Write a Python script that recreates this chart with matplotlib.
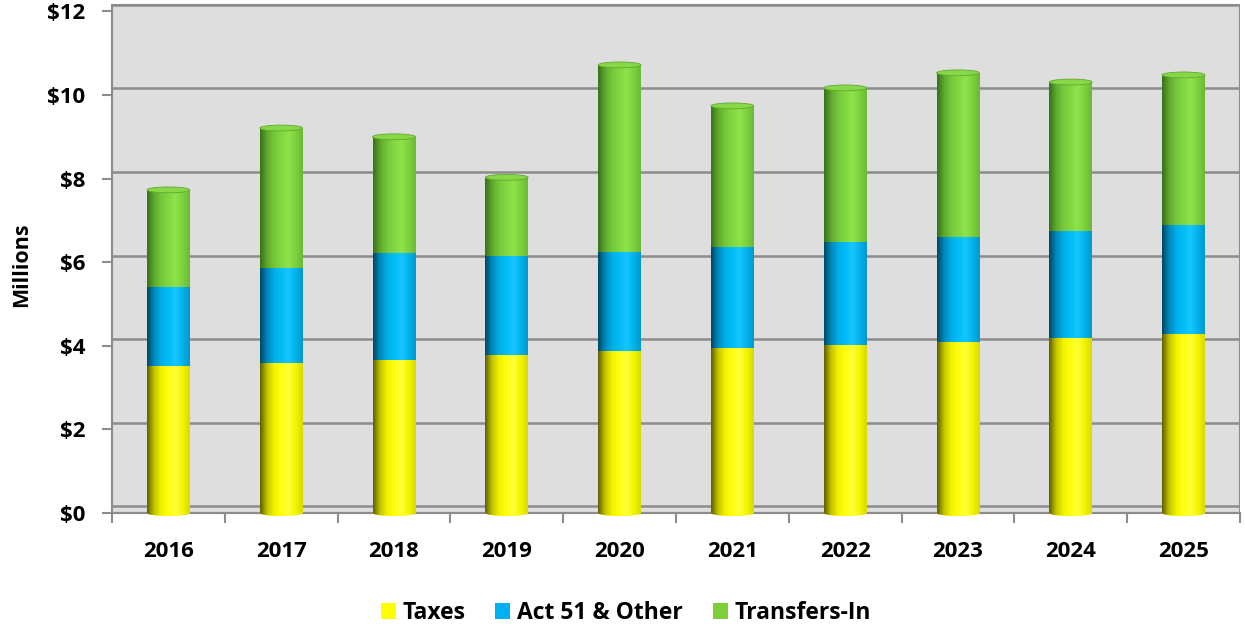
import numpy as np
import matplotlib
matplotlib.use('Agg')
import matplotlib.pyplot as plt
from matplotlib.colors import LinearSegmentedColormap
from matplotlib.patches import Rectangle, Ellipse, Patch

plt.rcParams['font.family'] = ['Open Sans', 'DejaVu Sans']
plt.rcParams['font.weight'] = 'bold'

years = ['2016', '2017', '2018', '2019', '2020', '2021', '2022', '2023', '2024', '2025']
taxes = [3.51, 3.59, 3.67, 3.78, 3.87, 3.95, 4.03, 4.09, 4.18, 4.28]
act51 = [1.89, 2.26, 2.56, 2.38, 2.38, 2.41, 2.46, 2.52, 2.57, 2.62]
transfers = [2.33, 3.36, 2.77, 1.87, 4.47, 3.38, 3.68, 3.92, 3.56, 3.58]
series_names = ['Taxes', 'Act 51 & Other', 'Transfers-In']
y_ticks = [0, 2, 4, 6, 8, 10, 12]
y_ticklabels = ['$0', '$2', '$4', '$6', '$8', '$10', '$12']

# flat colour for legend, plus the shading ramp across a cylinder
flat = ['#FFFF00', '#00B0F0', '#7DCF3A']
ramps = [
    ['#5e5e00', '#c4c400', '#f2f200', '#ffff10', '#ffff3a', '#f4f400', '#d8d800'],
    ['#004862', '#0088bb', '#00aee8', '#00bcf6', '#18c6ff', '#00b2ec', '#0098cc'],
    ['#37701a', '#5fa82e', '#76c83a', '#82d841', '#8fe24c', '#7cd23d', '#6bb834'],
]
cap_color = '#86d846'

BAR_W = 0.38
WALL_DY = 0.16    # back-wall offset of the 3-D floor, in data units
PX = 41.8         # pixels per $1M
Y0 = 513          # pixel row of value 0

fig = plt.figure(figsize=(12.45, 6.26), dpi=100)
ax = fig.add_axes([112 / 1245, 1 - 530 / 626, 1128 / 1245, 530 / 626])
ax.set_xlim(-0.5, 9.5)
ax.set_ylim((Y0 - 530) / PX, Y0 / PX)
ax.patch.set_alpha(0)

# back wall with gridlines
ax.add_patch(Rectangle((-0.5, 0), 10, 12 + WALL_DY, facecolor='#dedede',
                       edgecolor='#8c8c8c', lw=1.5, zorder=0))
for v in y_ticks:
    ax.plot([-0.5, 9.5], [v + WALL_DY, v + WALL_DY], color='#8c8c8c', lw=1.8, zorder=1)

x = np.arange(len(years))
bottoms = np.zeros(len(years))
grad = np.linspace(0, 1, 256).reshape(1, -1)
for vals, ramp, col in zip([taxes, act51, transfers], ramps, flat):
    cmap = LinearSegmentedColormap.from_list('cyl', ramp)
    bars = ax.bar(x, vals, BAR_W, bottom=bottoms, color=col, lw=0, zorder=2)
    for b in bars:
        bx, by = b.get_x(), b.get_y()
        im = ax.imshow(grad, cmap=cmap, aspect='auto', interpolation='bicubic',
                       extent=[bx, bx + b.get_width(), by, by + b.get_height()], zorder=3)
        im.set_clip_path(b)
    bottoms += np.array(vals)

# rounded base of each cylinder
ycmap = LinearSegmentedColormap.from_list('cylbase', ramps[0])
for xi in x:
    base = Ellipse((xi, 0), BAR_W, 0.14, facecolor=flat[0], lw=0, zorder=2)
    ax.add_patch(base)
    im = ax.imshow(grad, cmap=ycmap, aspect='auto', interpolation='bicubic',
                   extent=[xi - BAR_W / 2, xi + BAR_W / 2, -0.08, 0.08], zorder=3)
    im.set_clip_path(base)

# top caps
for xi, top in zip(x, bottoms):
    ax.add_patch(Ellipse((xi, top), BAR_W, 0.14, facecolor=cap_color,
                         edgecolor='#64a832', lw=0.6, zorder=4))

# axes styling
for s in ['top', 'right']:
    ax.spines[s].set_visible(False)
ax.spines['left'].set_bounds(0, 12 + WALL_DY)
ax.spines['left'].set_color('#8c8c8c')
ax.spines['left'].set_linewidth(1.5)
ax.spines['bottom'].set_position(('data', 0))
ax.spines['bottom'].set_color('#8c8c8c')
ax.spines['bottom'].set_linewidth(1.5)
ax.spines['bottom'].set_zorder(1.5)

ax.set_yticks(y_ticks)
ax.set_yticklabels(y_ticklabels, fontsize=16, fontweight='bold')
ax.tick_params(axis='y', length=7, width=1.5, color='#8c8c8c', pad=12)

ax.set_xticks(x)
ax.set_xticklabels(years, fontsize=16, fontweight='bold')
ax.set_xticks(np.arange(-0.5, 10, 1), minor=True)
ax.tick_params(axis='x', which='major', length=0, pad=20)
ax.tick_params(axis='x', which='minor', length=7, width=1.5, color='#8c8c8c')

fig.text(22 / 1245, 1 - 265 / 626, 'Millions', rotation=90, ha='center', va='center',
         fontsize=15.5, fontweight='bold')

handles = [Patch(facecolor=c, edgecolor='none') for c in flat]
fig.legend(handles, series_names, loc='center', bbox_to_anchor=(626 / 1245, 1 - 613 / 626),
           ncol=3, frameon=False, handlelength=0.65, handleheight=0.65,
           handletextpad=0.3, columnspacing=1.3, prop={'size': 16.5, 'weight': 'bold'})

fig.savefig('out.png', dpi=100)
